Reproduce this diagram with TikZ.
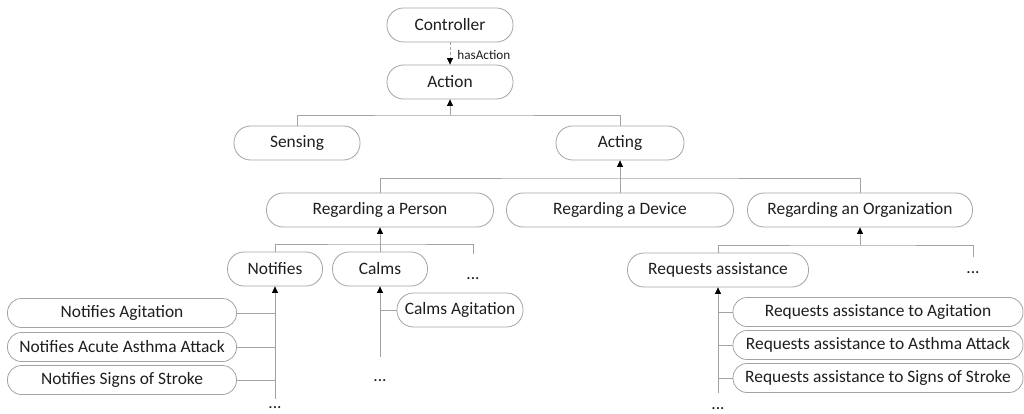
\documentclass[tikz,border=0pt]{standalone}
\usepackage{fontspec}
\setmainfont{Carlito}
\usetikzlibrary{arrows.meta}
\definecolor{edgegray}{HTML}{A3A3A3}
\definecolor{inkgray}{HTML}{1E1E1E}

\begin{document}
\begin{tikzpicture}[x=1pt,y=-1pt,
  pill/.style={draw=edgegray, line width=0.8pt, rounded corners=16.5pt,
    minimum height=34pt, inner sep=0pt, text=inkgray,
    font=\fontsize{17.4}{20}\selectfont},
  slim/.style={pill, minimum height=29pt, rounded corners=14pt},
  dots/.style={anchor=base, inner sep=0pt, text=inkgray,
    font=\fontsize{17.4}{20}\selectfont},
  link/.style={draw=edgegray, line width=0.8pt},
  up/.style={link, -{Triangle[length=6.5pt,width=6pt,color=black]}},
  relation/.style={up, dash pattern=on 3pt off 2pt}]

\useasboundingbox (0,0) rectangle (1024,414);

% top of the hierarchy
\node[pill, minimum width=126pt] (ctrl)   at (450,25)  {Controller};
\node[pill, minimum width=126pt] (action) at (450,82)  {Action};
\node[pill, minimum width=126pt] (sensing) at (297,143) {Sensing};
\node[pill, minimum width=128pt] (acting)  at (620,143) {Acting};

% kinds of acting
\node[pill, minimum width=227pt] (person) at (380,210) {Regarding a Person};
\node[pill, minimum width=227pt] (device) at (620,210) {Regarding a Device};
\node[pill, minimum width=225pt] (org)    at (860,210) {Regarding an Organization};

% actions regarding a person
\node[pill, minimum width=95pt] (notifies) at (275,269) {Notifies};
\node[pill, minimum width=95pt] (calms)    at (380,269) {Calms};
\node[dots] (dotsP) at (473,279) {...};

\node[slim, minimum width=229pt] (na)  at (122,313) {Notifies Agitation};
\node[slim, minimum width=229pt] (naa) at (122,347) {Notifies Acute Asthma Attack};
\node[slim, minimum width=229pt] (nss) at (122,380) {Notifies Signs of Stroke};
\node[dots] (dotsN) at (275,408) {...};

\node[pill, minimum width=126pt] (ca) at (460,310) {Calms Agitation};
\node[dots] (dotsC) at (380,381) {...};

% actions regarding an organization
\node[pill, minimum width=181pt] (reqa) at (718,270) {Requests assistance};
\node[dots] (dotsO) at (973,273) {...};

\node[slim, minimum width=290pt] (r1) at (878,312) {Requests assistance to Agitation};
\node[slim, minimum width=290pt] (r2) at (878,345) {Requests assistance to Asthma Attack};
\node[slim, minimum width=290pt] (r3) at (878,378) {Requests assistance to Signs of Stroke};
\node[dots] (dotsR) at (718,409) {...};

% junctions and open ends of the connectors
\coordinate (j1) at (450,115);
\coordinate (j2) at (620,178);
\coordinate (j3) at (380,244);
\coordinate (j4) at (860,245);
\coordinate (pEnd) at (473,254);
\coordinate (oEnd) at (973,257);
\coordinate (nEnd) at (275,399);
\coordinate (cEnd) at (380,357);
\coordinate (rEnd) at (718,393);

% controller relation
\draw[relation] (ctrl.south) -- node[right, inner sep=0pt, xshift=7pt, yshift=-1pt,
  text=inkgray, font=\fontsize{13.2}{15}\selectfont] {hasAction} (action.north);

% specialisation trees
\draw[link] (sensing.north) |- (j1) -| (acting.north);
\draw[up] (j1) -- (action.south);

\draw[link] (person.north) |- (j2) -| (org.north);
\draw[link] (device.north) -- (j2);
\draw[up] (j2) -- (acting.south);

\draw[link] (notifies.north) |- (j3) -| (pEnd);
\draw[link] (calms.north) -- (j3);
\draw[up] (j3) -- (person.south);

\draw[link] (reqa.north) |- (j4) -| (oEnd);
\draw[up] (j4) -- (org.south);

% notifications
\draw[up] (nEnd) -- (notifies.south);
\draw[link] (na.east)  -- (na.east -| nEnd);
\draw[link] (naa.east) -- (naa.east -| nEnd);
\draw[link] (nss.east) -- (nss.east -| nEnd);

% calming
\draw[up] (cEnd) -- (calms.south);
\draw[link] (ca.west) -- (ca.west -| cEnd);

% assistance requests
\draw[up] (rEnd) -- (reqa.south);
\draw[link] (r1.west) -- (r1.west -| rEnd);
\draw[link] (r2.west) -- (r2.west -| rEnd);
\draw[link] (r3.west) -- (r3.west -| rEnd);

\end{tikzpicture}
\end{document}
